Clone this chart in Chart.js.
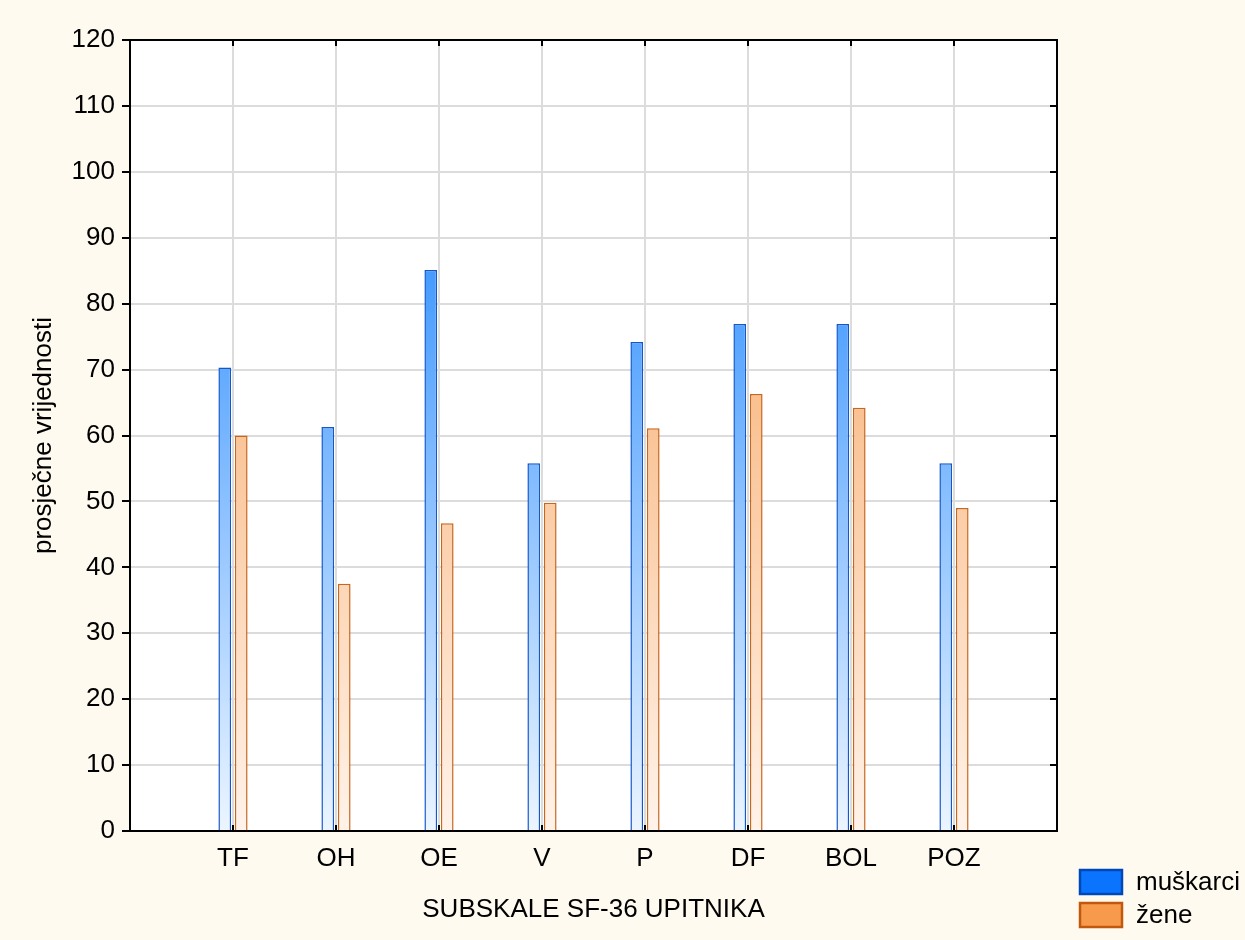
<!DOCTYPE html>
<html>
<head>
<meta charset="utf-8">
<script src="https://cdn.jsdelivr.net/npm/chart.js@4.4.1/dist/chart.umd.min.js"></script>
<style>
  html, body { margin: 0; padding: 0; background: #fffaef; }
  #wrap { width: 1245px; height: 940px; }
</style>
</head>
<body>
<div id="wrap"><canvas id="c" width="1245" height="940"></canvas></div>
<script>
const categories = ['TF', 'OH', 'OE', 'V', 'P', 'DF', 'BOL', 'POZ'];
const muskarci = [70.3, 61.3, 85.1, 55.8, 74.2, 76.9, 76.9, 55.8];
const zene = [60.0, 37.5, 46.7, 49.8, 61.1, 66.3, 64.2, 49.0];
const seriesNames = ['muškarci', 'žene'];
const yMin = 0, yMax = 120, yStep = 10;
const xTitle = 'SUBSKALE SF-36 UPITNIKA';
const yTitle = 'prosječne vrijednosti';

const FONT = "'Liberation Sans', Arial, sans-serif";
const labels = [''].concat(categories, ['']);
const pad = arr => [null].concat(arr, [null]);

function grad(stops) {
  return function (ctx) {
    const chart = ctx.chart;
    const a = chart.chartArea;
    if (!a) return stops[0];
    const g = chart.ctx.createLinearGradient(0, a.top, 0, a.bottom);
    g.addColorStop(0, stops[0]);
    g.addColorStop(1, stops[1]);
    return g;
  };
}

const legendColors = [
  { fill: '#0a74ff', border: '#0048b8' },
  { fill: '#f79a4c', border: '#c0580e' }
];

const framePlugin = {
  id: 'frame',
  beforeDraw(chart) {
    const { ctx, chartArea: a } = chart;
    ctx.save();
    ctx.fillStyle = '#fffaef';
    ctx.fillRect(0, 0, chart.width, chart.height);
    ctx.fillStyle = '#ffffff';
    ctx.fillRect(a.left, a.top, a.right - a.left, a.bottom - a.top);
    ctx.restore();
  },
  afterDraw(chart) {
    const { ctx, chartArea: a, scales } = chart;
    ctx.save();
    ctx.strokeStyle = '#000';
    ctx.lineWidth = 2;
    for (let i = 1; i <= categories.length; i++) {
      const x = Math.round(scales.x.getPixelForValue(i));
      ctx.beginPath();
      ctx.moveTo(x, a.top); ctx.lineTo(x, a.top + 6);
      ctx.moveTo(x, a.bottom); ctx.lineTo(x, a.bottom - 6);
      ctx.stroke();
    }
    for (let v = yMin; v <= yMax; v += yStep) {
      const y = Math.round(scales.y.getPixelForValue(v));
      ctx.beginPath();
      ctx.moveTo(a.right, y); ctx.lineTo(a.right - 7, y);
      ctx.stroke();
    }
    ctx.strokeRect(a.left, a.top, a.right - a.left, a.bottom - a.top);
    const lx = 1080, ly = [870, 903], bw = 42, bh = 24;
    ctx.font = '26px ' + FONT;
    ctx.textBaseline = 'middle';
    ctx.textAlign = 'left';
    chart.data.datasets.forEach((ds, i) => {
      ctx.fillStyle = legendColors[i].fill;
      ctx.fillRect(lx, ly[i], bw, bh);
      ctx.strokeStyle = legendColors[i].border;
      ctx.lineWidth = 2.5;
      ctx.strokeRect(lx, ly[i], bw, bh);
      ctx.fillStyle = '#000';
      ctx.fillText(ds.label, 1136, ly[i] + bh / 2 + 1);
    });
    ctx.restore();
  }
};

new Chart(document.getElementById('c'), {
  type: 'bar',
  data: {
    labels: labels,
    datasets: [
      {
        label: seriesNames[0],
        data: pad(muskarci),
        backgroundColor: grad(['rgb(0,118,255)', 'rgb(236,245,255)']),
        borderColor: '#1258cc',
        borderWidth: 1.5,
        categoryPercentage: 0.32,
        barPercentage: 0.77
      },
      {
        label: seriesNames[1],
        data: pad(zene),
        backgroundColor: grad(['rgb(245,150,70)', 'rgb(255,243,234)']),
        borderColor: '#c8661c',
        borderWidth: 1.5,
        categoryPercentage: 0.32,
        barPercentage: 0.77
      }
    ]
  },
  options: {
    responsive: false,
    animation: false,
    devicePixelRatio: 1,
    layout: { padding: { left: 0, right: 188, top: 40, bottom: 0 } },
    plugins: {
      legend: { display: false },
      tooltip: { enabled: false },
      title: { display: false }
    },
    scales: {
      x: {
        offset: false,
        grid: { offset: false, color: '#dcdcdc', lineWidth: 2, drawTicks: false },
        border: { display: false },
        ticks: { color: '#000', font: { family: FONT, size: 26 }, padding: 12, autoSkip: false, maxRotation: 0 },
        title: { display: true, text: xTitle, color: '#000', font: { family: FONT, size: 26 }, padding: { top: 0, bottom: 15 } },
        afterFit(s) { s.height = 109; }
      },
      y: {
        min: yMin,
        max: yMax,
        ticks: { stepSize: yStep, color: '#000', font: { family: FONT, size: 26 }, padding: 7 },
        grid: { color: '#dcdcdc', lineWidth: 2, drawTicks: true, tickLength: 8, tickColor: '#000', tickWidth: 2 },
        border: { display: false },
        title: { display: true, text: yTitle, color: '#000', font: { family: FONT, size: 26 }, padding: { top: 28, bottom: 0 } },
        afterFit(s) { s.width = 130; }
      }
    }
  },
  plugins: [framePlugin]
});
</script>
</body>
</html>
